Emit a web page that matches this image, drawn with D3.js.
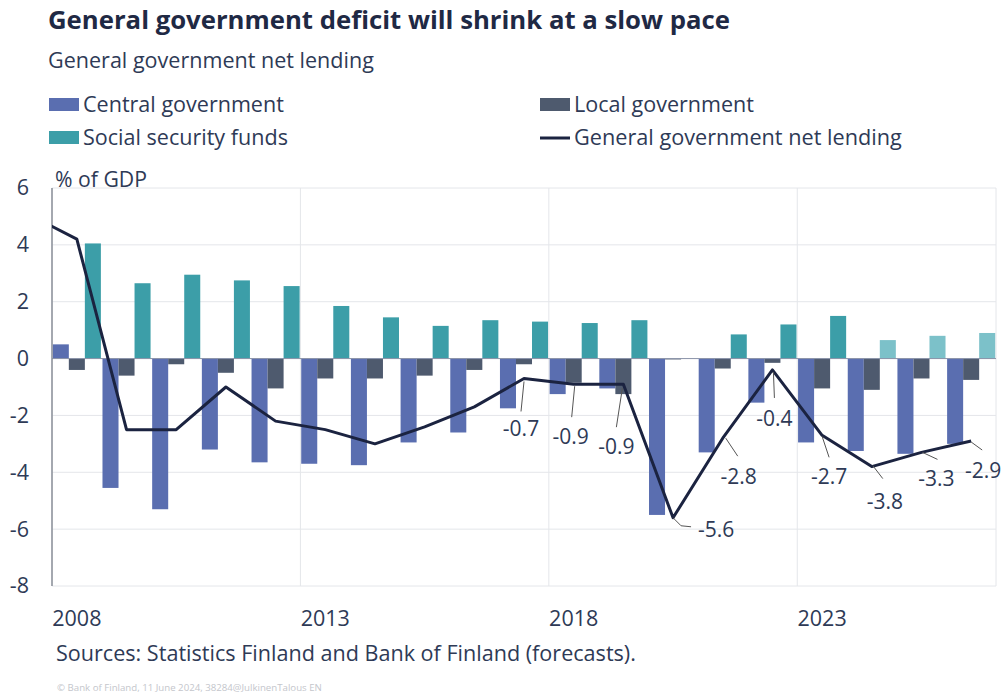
<!DOCTYPE html>
<html><head><meta charset="utf-8">
<script src="https://cdn.jsdelivr.net/npm/d3@7"></script>
<style>body{margin:0;background:#fff}svg{display:block}text{font-family:"Open Sans",sans-serif}</style>
</head><body>
<svg id="c" width="1003" height="693"></svg>
<script>
const years = [2008,2009,2010,2011,2012,2013,2014,2015,2016,2017,2018,2019,2020,2021,2022,2023,2024,2025,2026];
const forecastYears = [2024,2025,2026];
const central = [0.5,-4.55,-5.3,-3.2,-3.65,-3.7,-3.75,-2.95,-2.6,-1.75,-1.25,-1.05,-5.5,-3.3,-1.55,-2.95,-3.25,-3.35,-3.0];
const local = [-0.4,-0.6,-0.2,-0.5,-1.05,-0.7,-0.7,-0.6,-0.4,-0.2,-0.85,-1.25,-0.03,-0.35,-0.15,-1.05,-1.1,-0.7,-0.75];
const social = [4.05,2.65,2.95,2.75,2.55,1.85,1.45,1.15,1.35,1.3,1.25,1.35,0.0,0.85,1.2,1.5,0.65,0.8,0.9];
const lineYears = [2007].concat(years);
const netLending = [5.1,4.2,-2.5,-2.5,-1.0,-2.2,-2.5,-3.0,-2.4,-1.7,-0.7,-0.9,-0.9,-5.6,-2.8,-0.4,-2.7,-3.8,-3.3,-2.9];
const labelledYears = [2017,2018,2019,2020,2021,2022,2023,2024,2025,2026];
const yTicks = [6,4,2,0,-2,-4,-6,-8];
const xTickYears = [2008,2013,2018,2023];
const seriesNames = ["Central government","Local government","Social security funds","General government net lending"];
const title = "General government deficit will shrink at a slow pace";
const subtitle = "General government net lending";
const yUnit = "% of GDP";
const source = "Sources: Statistics Finland and Bank of Finland (forecasts).";
const credit = "© Bank of Finland, 11 June  2024, 38284@JulkinenTalous EN";

// styles / layout
const C = {central:"#5a6eb0", local:"#4e5a6e", social:"#3c9ea8", socialF:"#7cc1c9", line:"#1b2340", text:"#2e3a56", grid:"#e4e6ea"};
// leader/label offsets relative to point: [x1,y1,x2,y2,lx,ly]
const labelOffsets = {
 2017:[0,3,-3,33,-3,50], 2018:[1,2,-2,33,-3,52], 2019:[-1,4,-7,43,-7,62],
 2020:[0,0,8,8,43,11], 2021:[3,0,15,18,16,38], 2022:[1,2,2,28,2,48],
 2023:[0,1,7,22,7,41], 2024:[1,-1,11,12,13,34], 2025:[1,0,16,7,15,26], 2026:[0,1,11,9,12,29]
};

const loc = d3.formatLocale({decimal:".", thousands:",", grouping:[3], currency:["",""], minus:"-"});
const svg = d3.select("#c");
const L=52, R=996, T=188, B=586;
const x = d3.scaleBand().domain(years).range([L,R]);
const bw = x.bandwidth();
const xs = d3.scaleBand().domain(["c","l","s"]).range([0,bw]).paddingOuter(0.05);
const y = d3.scaleLinear().domain([-8,6]).range([B,T]);
const xc = yr => L + (yr-years[0])*bw + bw/2;

function fit(sel, w){ const n=sel.node(); const cur=n.getComputedTextLength(); const fs=parseFloat(sel.attr("font-size")); sel.attr("font-size", fs*w/cur); }

// title
fit(svg.append("text").attr("x",48).attr("y",29).attr("font-size",27).attr("font-weight",700).attr("fill","#1f2944").text(title), 682);
fit(svg.append("text").attr("x",48).attr("y",68).attr("font-size",20).attr("fill",C.text).text(subtitle), 326);

// legend
const lg = svg.append("g");
[[49,105,C.central,seriesNames[0],201],[540,105,C.local,seriesNames[1],180],[49,138,C.social,seriesNames[2],205]].forEach(d=>{
  lg.append("rect").attr("x",d[0]).attr("y",d[1]-7).attr("width",30).attr("height",13).attr("fill",d[2]);
  fit(lg.append("text").attr("x",d[0]+34).attr("y",d[1]+7).attr("font-size",20).attr("fill",C.text).text(d[3]), d[4]);
});
lg.append("line").attr("x1",540).attr("x2",570).attr("y1",138).attr("y2",138).attr("stroke",C.line).attr("stroke-width",3);
fit(lg.append("text").attr("x",574).attr("y",145).attr("font-size",20).attr("fill",C.text).text(seriesNames[3]), 328);

fit(svg.append("text").attr("x",55).attr("y",187).attr("font-size",20).attr("fill",C.text).text(yUnit), 92);

// grid
const g = svg.append("g");
g.selectAll(".hg").data(yTicks.filter(v=>v!==0)).join("line").attr("x1",L).attr("x2",R).attr("y1",d=>y(d)).attr("y2",d=>y(d)).attr("stroke",C.grid);
g.selectAll(".vg").data(xTickYears.concat([2027])).join("line").attr("x1",d=>d===2027?R:x(d)).attr("x2",d=>d===2027?R:x(d)).attr("y1",T).attr("y2",B).attr("stroke",C.grid);

// y axis labels
const ya = svg.append("g").attr("transform",`translate(${L},0)`).call(d3.axisLeft(y).tickValues(yTicks).tickSize(0).tickPadding(23).tickFormat(loc.format("d")));
ya.select(".domain").remove();
ya.selectAll("text").attr("font-size",21.5).attr("fill",C.text).attr("font-family","Open Sans");

// x axis labels
const xa = svg.append("g").attr("transform",`translate(0,${B+25})`).call(d3.axisBottom(x).tickValues(xTickYears).tickSize(0).tickPadding(0));
xa.select(".domain").remove();
xa.selectAll("text").attr("font-size",21.5).attr("fill",C.text).attr("font-family","Open Sans");

// bars
const bars = svg.append("g");
const sets=[["c",central,()=>C.central],["l",local,()=>C.local],["s",social,yr=>forecastYears.includes(yr)?C.socialF:C.social]];
sets.forEach(([k,vals,col])=>{
  bars.selectAll(".b"+k).data(years.map((yr,i)=>({yr,v:vals[i]}))).join("rect")
   .attr("x",d=>x(d.yr)+xs(k)).attr("width",xs.bandwidth())
   .attr("y",d=>y(Math.max(0,d.v))).attr("height",d=>Math.abs(y(d.v)-y(0)))
   .attr("fill",d=>col(d.yr));
});

// axes lines
svg.append("line").attr("x1",L).attr("x2",R).attr("y1",y(0)).attr("y2",y(0)).attr("stroke","#8a93a8").attr("stroke-width",1);
svg.append("line").attr("x1",L).attr("x2",L).attr("y1",T).attr("y2",B).attr("stroke","#8a8f99").attr("stroke-width",1.5);

// line
svg.append("clipPath").attr("id","clip").append("rect").attr("x",L).attr("y",0).attr("width",R-L+10).attr("height",693);
const pts = lineYears.map((yr,i)=>[xc(yr), y(netLending[i])]);
svg.append("path").attr("clip-path","url(#clip)").attr("d",d3.line()(pts)).attr("fill","none").attr("stroke",C.line).attr("stroke-width",3).attr("stroke-linejoin","round");

// labels
const fmt = loc.format(".1f");
const lab = svg.append("g");
labelledYears.forEach(yr=>{
  const i = lineYears.indexOf(yr); const px=xc(yr), py=y(netLending[i]); const o=labelOffsets[yr];
  if(yr===2020){
    lab.append("polyline").attr("points",`${px+o[0]},${py+o[1]} ${px+o[2]},${py+o[3]} ${px+18},${py+o[3]+1}`).attr("fill","none").attr("stroke","#555").attr("stroke-width",1);
  } else {
    lab.append("line").attr("x1",px+o[0]).attr("y1",py+o[1]).attr("x2",px+o[2]).attr("y2",py+o[3]).attr("stroke","#555").attr("stroke-width",1);
  }
  lab.append("text").attr("x",px+o[4]).attr("y",py+o[5]).attr("text-anchor","middle").attr("dominant-baseline","central")
    .attr("font-size",21).attr("fill",C.text).text(fmt(netLending[i]));
});

fit(svg.append("text").attr("x",56).attr("y",661).attr("font-size",20).attr("fill",C.text).text(source), 580);
fit(svg.append("text").attr("x",57).attr("y",691).attr("font-size",9).attr("fill","#c4c6cc").text(credit), 265);
</script>
</body></html>
